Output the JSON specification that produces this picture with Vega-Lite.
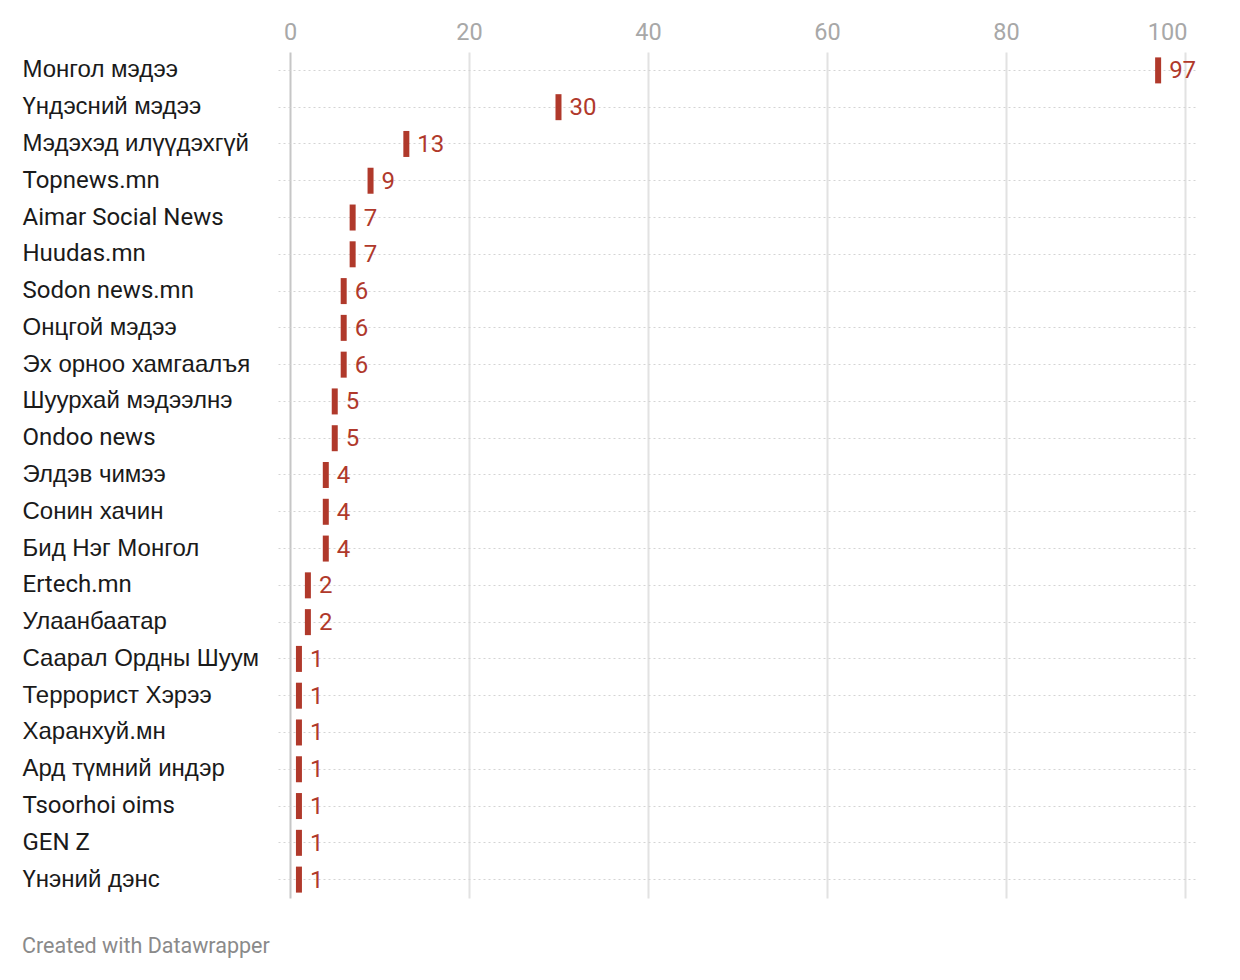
{
  "$schema": "https://vega.github.io/schema/vega-lite/v6.json",
  "autosize": "none",
  "width": 917,
  "height": 846,
  "padding": {"left": 278, "top": 52, "right": 45, "bottom": 82},
  "background": "white",
  "config": {
    "font": "Roboto",
    "view": {"stroke": null}
  },
  "title": {
    "text": "Created with Datawrapper",
    "orient": "bottom",
    "anchor": "start",
    "frame": "bounds",
    "offset": 38,
    "font": "Roboto",
    "fontSize": 21.5,
    "fontWeight": "normal",
    "color": "#8a8a8a"
  },
  "data": {
    "values": [
      {"name": "Монгол мэдээ", "value": 97},
      {"name": "Үндэсний мэдээ", "value": 30},
      {"name": "Мэдэхэд илүүдэхгүй", "value": 13},
      {"name": "Topnews.mn", "value": 9},
      {"name": "Aimar Social News", "value": 7},
      {"name": "Huudas.mn", "value": 7},
      {"name": "Sodon news.mn", "value": 6},
      {"name": "Онцгой мэдээ", "value": 6},
      {"name": "Эх орноо хамгаалъя", "value": 6},
      {"name": "Шуурхай мэдээлнэ", "value": 5},
      {"name": "Ondoo news", "value": 5},
      {"name": "Элдэв чимээ", "value": 4},
      {"name": "Сонин хачин", "value": 4},
      {"name": "Бид Нэг Монгол", "value": 4},
      {"name": "Ertech.mn", "value": 2},
      {"name": "Улаанбаатар", "value": 2},
      {"name": "Саарал Ордны Шуум", "value": 1},
      {"name": "Террорист Хэрээ", "value": 1},
      {"name": "Харанхуй.мн", "value": 1},
      {"name": "Ард түмний индэр", "value": 1},
      {"name": "Tsoorhoi oims", "value": 1},
      {"name": "GEN Z", "value": 1},
      {"name": "Үнэний дэнс", "value": 1}
    ]
  },
  "encoding": {
    "y": {
      "field": "name",
      "type": "nominal",
      "sort": null,
      "scale": {"paddingInner": 0, "paddingOuter": 0},
      "axis": {
        "title": null,
        "domain": false,
        "ticks": false,
        "tickSize": 0,
        "labelAlign": "left",
        "labelPadding": 256,
        "labelFont": {"condition": {"test": "test(regexp('[\\u0400-\\u04FF]'), datum.label)", "value": "Liberation Sans"}, "value": "Roboto"},
        "labelFontSize": 24,
        "labelColor": "#1a1a1a",
        "labelLimit": 300,
        "grid": true,
        "bandPosition": 0.5,
        "gridDash": [2, 3],
        "gridColor": "#d4d4d4",
        "gridWidth": 1
      }
    },
    "x": {
      "field": "value",
      "type": "quantitative",
      "scale": {"domain": [-1.34, 101.12], "nice": false, "zero": false},
      "axis": {
        "orient": "top",
        "title": null,
        "values": [0, 20, 40, 60, 80, 100],
        "domain": false,
        "ticks": false,
        "labelPadding": 8,
        "labelFont": "Roboto",
        "labelFontSize": 23.5,
        "labelColor": "#a8a8a8",
        "labelAlign": {"condition": {"test": "datum.value === 100", "value": "right"}, "value": "center"},
        "labelOffset": {"condition": {"test": "datum.value === 100", "value": 2}, "value": 0},
        "grid": true,
        "gridColor": {"condition": {"test": "datum.value === 0", "value": "#c6c6c6"}, "value": "#e2e2e2"},
        "gridWidth": 2,
        "zindex": 0
      }
    }
  },
  "layer": [
    {
      "mark": {"type": "tick", "orient": "vertical", "color": "#b0392b", "size": 26, "thickness": 6, "opacity": 1}
    },
    {
      "mark": {"type": "text", "align": "left", "baseline": "middle", "dx": 11, "dy": 1, "font": "Roboto", "fontSize": 24, "color": "#b0392b"},
      "encoding": {"text": {"field": "value", "type": "quantitative"}}
    }
  ]
}
